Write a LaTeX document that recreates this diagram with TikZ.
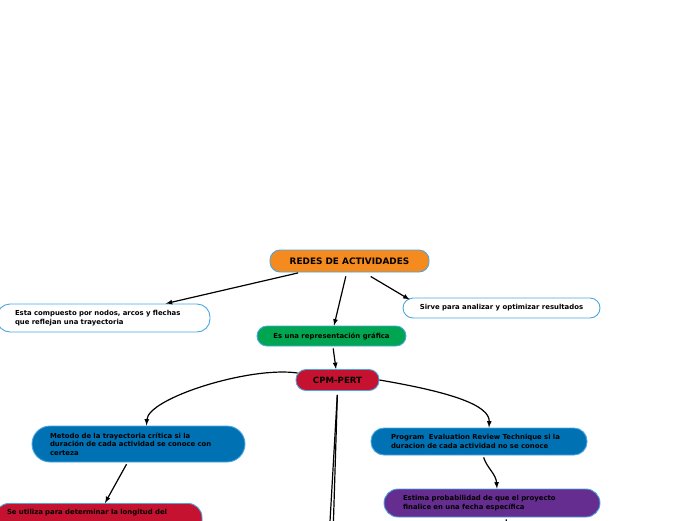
\documentclass[tikz,border=0pt]{standalone}
\usepackage{fontspec}
\setmainfont{DejaVu Sans}
\usetikzlibrary{arrows}

\definecolor{naranja}{HTML}{F58A1F}
\definecolor{verde}{HTML}{00A551}
\definecolor{rojo}{HTML}{C41230}
\definecolor{azul}{HTML}{0072B4}
\definecolor{morado}{HTML}{662D91}
\definecolor{borde}{HTML}{4AA6E2}

\tikzset{
  concepto/.style={draw=borde, line width=0.9pt, rounded corners=10pt, text=black,
    font=\bfseries\fontsize{6.9}{8.6}\selectfont, inner ysep=2pt},
  izq/.style={align=left, inner xsep=#1pt},
  enlace/.style={-latex, line width=1.2pt, shorten <=2pt},
}

\begin{document}
\begin{tikzpicture}[x=1pt,y=-1pt]
                      % Page frame
                      \useasboundingbox (0,0) rectangle (696,520);
                      \clip (0,0) rectangle (696,520);

                      % Draw concepts
                      \node[concepto, fill=naranja, minimum width=159pt, minimum height=22pt,
                        font=\bfseries\fontsize{8.9}{10}\selectfont] (redes) at (349.5,261) {REDES DE ACTIVIDADES};
                      \node[concepto, fill=white, izq=18, text width=177pt, minimum width=213pt,
                        minimum height=28pt, rounded corners=13pt] (esta) at (103.5,318)
                        {Esta compuesto por nodos, arcos y flechas\\que reflejan una trayectoria};
                      \node[concepto, fill=white, minimum width=197pt, minimum height=20pt] (sirve)
                        at (501.5,308) {Sirve para analizar y optimizar resultados};
                      \node[concepto, fill=verde, minimum width=149pt, minimum height=20pt] (esuna)
                        at (331.5,336) {Es una representación gráfica};
                      \node[concepto, fill=rojo, minimum width=83pt, minimum height=21pt,
                        font=\bfseries\fontsize{8.6}{10}\selectfont] (cpm) at (337.5,380) {CPM-PERT};
                      \node[concepto, fill=azul, izq=18, text width=177pt, minimum width=213pt,
                        minimum height=36pt, rounded corners=18pt] (metodo) at (138.5,444)
                        {Metodo de la trayectoria crítica si la\\duración de cada actividad se conoce con\\certeza};
                      \node[concepto, fill=azul, izq=20, text width=176pt, minimum width=216pt,
                        minimum height=27pt, rounded corners=13pt] (program) at (479,441.5)
                        {Program\ \ Evaluation Review Technique si la\\duracion de cada actividad no se conoce};
                      \node[concepto, fill=rojo, izq=12, text width=183pt, minimum width=207pt,
                        anchor=north, inner ysep=6pt, text depth=26pt, rounded corners=14pt] (seutil)
                        at (98.5,503) {Se utiliza para determinar la longitud del};
                      \node[concepto, fill=morado, izq=19, text width=178pt, minimum width=216pt,
                        minimum height=28pt, rounded corners=14pt] (estima) at (492,503)
                        {Estima probabilidad de que el proyecto\\finalice en una fecha específica};

                      % Free ends below the page
                      \coordinate (bajoA) at (325.5,600);
                      \coordinate (bajoB) at (331,600);
                      \coordinate (bajoC) at (509,560);

                      % Draw connectors
                      \draw[enlace] (redes) -- (esta);
                      \draw[enlace, shorten <=4pt] (redes) -- (esuna);
                      \draw[enlace] ([xshift=19.5pt,yshift=-3pt]redes.south) -- ([xshift=7pt,yshift=-2pt]sirve.north west);
                      \draw[enlace] (esuna) -- (cpm);
                      \draw[enlace, shorten <=0pt] ([xshift=2pt,yshift=7pt]cpm.west)
                        .. controls (250,366) and (148,398) .. ([xshift=8pt]metodo.north);
                      \draw[enlace, shorten <=0pt] (cpm.east)
                        .. controls (450,392) and (490,405) .. ([xshift=10pt]program.north);
                      \draw[enlace] ([xshift=-11pt]metodo.south) -- ([xshift=6.5pt]seutil.north);
                      \draw[enlace] ([xshift=4pt]program.south)
                        .. controls (487,468) and (496,474) .. ([xshift=5pt]estima.north);
                      \draw[line width=1.2pt, shorten <=2pt] ([xshift=14pt]estima.south) -- (bajoC);
                      \foreach \fin in {bajoA,bajoB}
                          {
                              \draw[line width=1.2pt, shorten <=4pt] (cpm.south) -- (\fin);
                          }

                  \end{tikzpicture}
\end{document}
